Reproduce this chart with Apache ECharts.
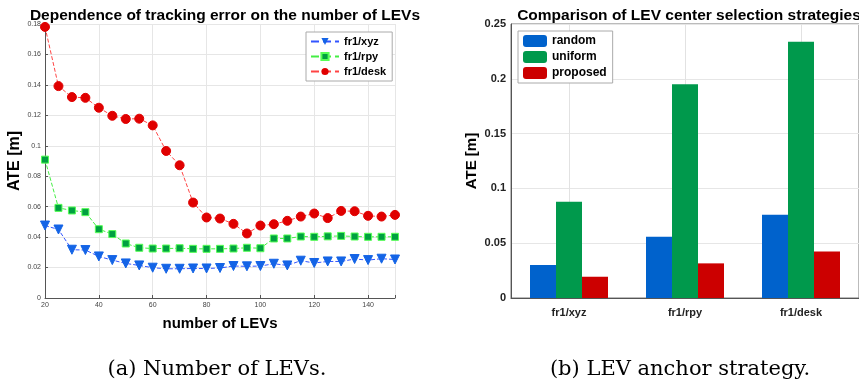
<!DOCTYPE html>
<html><head><meta charset="utf-8">
<script src="https://cdn.jsdelivr.net/npm/echarts@6/dist/echarts.min.js"></script>
<style>html,body{margin:0;padding:0;background:#fff}#c{width:859px;height:382px}</style>
</head><body><div id="c"></div>
<script>
const levCounts = [20,25,30,35,40,45,50,55,60,65,70,75,80,85,90,95,100,105,110,115,120,125,130,135,140,145,150];
const xyz  = [0.0476,0.0450,0.0317,0.0315,0.0273,0.0249,0.0227,0.0214,0.0199,0.0192,0.0192,0.0194,0.0194,0.0197,0.0210,0.0208,0.0210,0.0225,0.0214,0.0245,0.0230,0.0240,0.0240,0.0256,0.0249,0.0258,0.0253];
const rpy  = [0.0909,0.0592,0.0575,0.0564,0.0452,0.0420,0.0358,0.0330,0.0325,0.0325,0.0327,0.0323,0.0323,0.0323,0.0325,0.0330,0.0327,0.0391,0.0391,0.0404,0.0402,0.0405,0.0408,0.0404,0.0402,0.0402,0.0402];
const desk = [0.1781,0.1392,0.1320,0.1315,0.1250,0.1197,0.1176,0.1178,0.1134,0.0966,0.0872,0.0627,0.0529,0.0522,0.0487,0.0424,0.0476,0.0485,0.0507,0.0535,0.0555,0.0525,0.0572,0.0570,0.0540,0.0535,0.0546];
const seqNames = ['fr1/xyz','fr1/rpy','fr1/desk'];
const randomV   = [0.0301,0.0559,0.0759];
const uniformV  = [0.0878,0.1950,0.2339];
const proposedV = [0.0194,0.0316,0.0425];

const chart = echarts.init(document.getElementById('c'), null, {renderer:'canvas'});
const F = 'Liberation Sans, Arial, sans-serif';
const grid = {color:'#e6e6e6', width:1};
chart.setOption({
  animation:false,
  title:[
    {text:'Dependence of tracking error on the number of LEVs', left:220, top:3, textAlign:'center',
     textStyle:{fontFamily:F,fontWeight:'bold',fontSize:15.5,color:'#000'}},
    {text:'Comparison of LEV center selection strategies', left:684, top:3, textAlign:'center',
     textStyle:{fontFamily:F,fontWeight:'bold',fontSize:15.5,color:'#000'}},
    {text:'(a) Number of LEVs.', left:212, top:354, textAlign:'center',
     textStyle:{fontFamily:'DejaVu Serif, serif',fontWeight:'normal',fontSize:21,color:'#000'}},
    {text:'(b) LEV anchor strategy.', left:675, top:354, textAlign:'center',
     textStyle:{fontFamily:'DejaVu Serif, serif',fontWeight:'normal',fontSize:21,color:'#000'}}
  ],
  legend:[
    {orient:'vertical', left:306, top:32, itemWidth:28, itemHeight:9, itemGap:4,
     padding:[4,6,4,4], borderColor:'#aaa', borderWidth:1, backgroundColor:'#fff',
     data:['fr1/xyz','fr1/rpy','fr1/desk'],
     textStyle:{fontFamily:F,fontWeight:'bold',fontSize:11,color:'#000'}},
    {orient:'vertical', left:518, top:31, itemWidth:24, itemHeight:12, itemGap:4, z:10,
     padding:[4,6,4,5], borderColor:'#aaa', borderWidth:1, backgroundColor:'#fff',
     data:['random','uniform','proposed'],
     textStyle:{fontFamily:F,fontWeight:'bold',fontSize:12,color:'#000'}}
  ],
  grid:[
    {left:45, top:24, width:350, height:274},
    {left:511, top:24, width:348, height:274, show:true, borderColor:'#777', borderWidth:1, backgroundColor:'rgba(0,0,0,0)'}
  ],
  xAxis:[
    {gridIndex:0, type:'value', min:20, max:150, interval:20,
     name:'number of LEVs', nameLocation:'middle', nameGap:18,
     nameTextStyle:{fontFamily:F,fontWeight:'bold',fontSize:15,color:'#000'},
     axisLine:{lineStyle:{color:'#555'}}, axisTick:{inside:true,length:3,lineStyle:{color:'#555'}},
     axisLabel:{fontFamily:F,fontSize:7,color:'#444',margin:4, formatter:v=>(v===150?'':String(v))},
     splitLine:{show:true,lineStyle:grid}},
    {gridIndex:1, type:'category', data:seqNames, boundaryGap:true,
     axisLine:{lineStyle:{color:'#555'}}, axisTick:{show:false},
     axisLabel:{fontFamily:F,fontWeight:'bold',fontSize:11,color:'#222',margin:9},
     splitLine:{show:false}}
  ],
  yAxis:[
    {gridIndex:0, type:'value', min:0, max:0.18, interval:0.02,
     name:'ATE [m]', nameLocation:'middle', nameGap:22, nameRotate:90,
     nameTextStyle:{fontFamily:F,fontWeight:'bold',fontSize:16,color:'#000'},
     axisLine:{show:true,lineStyle:{color:'#555'}}, axisTick:{inside:true,length:3,lineStyle:{color:'#555'}},
     axisLabel:{fontFamily:F,fontSize:7,color:'#444',margin:4, formatter:v=>String(+v.toFixed(2))},
     splitLine:{show:true,lineStyle:grid}},
    {gridIndex:1, type:'value', min:0, max:0.25, interval:0.05,
     name:'ATE [m]', nameLocation:'middle', nameGap:32, nameRotate:90,
     nameTextStyle:{fontFamily:F,fontWeight:'bold',fontSize:15,color:'#000'},
     axisLine:{show:true,lineStyle:{color:'#555'}}, axisTick:{inside:true,length:3,lineStyle:{color:'#555'}},
     axisLabel:{fontFamily:F,fontWeight:'bold',fontSize:11,color:'#222',margin:5, formatter:v=>String(+v.toFixed(2))},
     splitLine:{show:true,lineStyle:grid}}
  ],
  series:[
    {name:'fr1/xyz', type:'line', xAxisIndex:0, yAxisIndex:0, data:levCounts.map((x,i)=>[x,xyz[i]]),
     symbol:'triangle', symbolRotate:180, symbolSize:9, itemStyle:{color:'#1464e6',borderColor:'#1464e6'},
     lineStyle:{color:'#3355ff',type:'dashed',width:1}},
    {name:'fr1/rpy', type:'line', xAxisIndex:0, yAxisIndex:0, data:levCounts.map((x,i)=>[x,rpy[i]]),
     symbol:'rect', symbolSize:7, itemStyle:{color:'#00a040',borderColor:'#55ff55',borderWidth:1},
     lineStyle:{color:'#44ee44',type:'dashed',width:1}},
    {name:'fr1/desk', type:'line', xAxisIndex:0, yAxisIndex:0, data:levCounts.map((x,i)=>[x,desk[i]]),
     symbol:'circle', symbolSize:9, itemStyle:{color:'#e00000',borderColor:'#e00000'},
     lineStyle:{color:'#ff4444',type:'dashed',width:1}},
    {name:'_grid', type:'line', xAxisIndex:1, yAxisIndex:1, data:[], z:1, silent:true,
     markLine:{silent:true, z:1, symbol:['none','none'], label:{show:false}, animation:false,
       lineStyle:{color:'#e2e2e2', type:'solid', width:1},
       data:seqNames.map(n=>({xAxis:n}))}},
    {name:'random', type:'bar', xAxisIndex:1, yAxisIndex:1, data:randomV, barWidth:26, barGap:'0%', z:3,
     itemStyle:{color:'#0062cc'}},
    {name:'uniform', type:'bar', xAxisIndex:1, yAxisIndex:1, data:uniformV, barWidth:26, barGap:'0%', z:3,
     itemStyle:{color:'#00994c'}},
    {name:'proposed', type:'bar', xAxisIndex:1, yAxisIndex:1, data:proposedV, barWidth:26, barGap:'0%', z:3,
     itemStyle:{color:'#cc0000'}}
  ]
});
</script></body></html>
